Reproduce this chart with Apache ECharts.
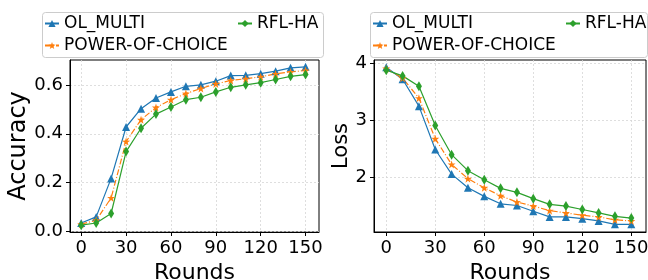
<!DOCTYPE html>
<html>
<head>
<meta charset="utf-8">
<script src="https://cdn.jsdelivr.net/npm/echarts@6/dist/echarts.min.js"></script>
<style>
  html, body { margin: 0; padding: 0; background: #fff; }
  #chart { width: 648px; height: 280px; }
</style>
</head>
<body>
<div id="chart"></div>
<script>
// rounds on the x axis
var rounds = [0, 10, 20, 30, 40, 50, 60, 70, 80, 90, 100, 110, 120, 130, 140, 150];
var xTicks = [0, 30, 60, 90, 120, 150];
var accTicks = [0, 0.2, 0.4, 0.6];
var lossTicks = [2, 3, 4];

// accuracy
var accOlMulti = [0.034, 0.059, 0.217, 0.428, 0.503, 0.547, 0.572, 0.595, 0.601, 0.616, 0.639, 0.640, 0.647, 0.657, 0.671, 0.675];
var accPower   = [0.029, 0.045, 0.137, 0.368, 0.458, 0.508, 0.540, 0.565, 0.586, 0.605, 0.619, 0.626, 0.634, 0.646, 0.654, 0.660];
var accRflHa   = [0.025, 0.034, 0.073, 0.327, 0.423, 0.481, 0.510, 0.540, 0.550, 0.572, 0.591, 0.601, 0.610, 0.623, 0.636, 0.643];

// loss
var lossOlMulti = [3.93, 3.72, 3.25, 2.49, 2.06, 1.82, 1.67, 1.54, 1.51, 1.41, 1.31, 1.31, 1.28, 1.24, 1.18, 1.18];
var lossPower   = [3.91, 3.74, 3.39, 2.68, 2.23, 1.98, 1.82, 1.68, 1.57, 1.50, 1.42, 1.38, 1.34, 1.31, 1.26, 1.24];
var lossRflHa   = [3.88, 3.78, 3.60, 2.91, 2.40, 2.12, 1.96, 1.81, 1.74, 1.63, 1.53, 1.50, 1.44, 1.38, 1.32, 1.29];

var BLUE = '#1f77b4', ORANGE = '#ff7f0e', GREEN = '#2ca02c';
var FONT = 'DejaVu Sans';
var STAR = 'path://M0,-10L2.35,-3.24L9.51,-3.09L3.8,1.24L5.88,8.09L0,4L-5.88,8.09L-3.8,1.24L-9.51,-3.09L-2.35,-3.24Z';

function pairs(vals) {
    return rounds.map(function (r, i) { return [r, vals[i]]; });
}

function xAxis(gi) {
    return {
        type: 'value', gridIndex: gi, min: -7.5, max: 159,
        name: 'Rounds', nameLocation: 'middle', nameGap: 26,
        nameTextStyle: { fontFamily: FONT, fontSize: 22, color: '#000' },
        axisLine: { show: true, onZero: false, lineStyle: { color: '#000', width: 1 } },
        axisTick: { show: true, length: 4, customValues: xTicks, lineStyle: { color: '#000' } },
        axisLabel: { customValues: xTicks, margin: 7, fontFamily: FONT, fontSize: 18, color: '#000' },
        splitLine: { show: true, lineStyle: { color: '#d6d6d6', type: [2, 2], width: 0.8 } }
    };
}

function yAxis(gi, name, size, min, max, ticks, gap, fmt) {
    return {
        type: 'value', gridIndex: gi, min: min, max: max,
        name: name, nameLocation: 'middle', nameGap: gap,
        nameTextStyle: { fontFamily: FONT, fontSize: size, color: '#000' },
        axisLine: { show: true, onZero: false, lineStyle: { color: '#000', width: 1 } },
        axisTick: { show: true, length: 4, customValues: ticks, lineStyle: { color: '#000' } },
        axisLabel: { customValues: ticks, margin: 7, fontFamily: FONT, fontSize: 18, color: '#000', formatter: fmt },
        splitLine: { show: true, lineStyle: { color: '#d6d6d6', type: [2, 2], width: 0.8 } }
    };
}

function line(name, gi, vals, color, symbol, size, dash) {
    return {
        name: name, type: 'line', xAxisIndex: gi, yAxisIndex: gi,
        data: pairs(vals), symbol: symbol, symbolSize: size,
        showAllSymbol: true, animation: false,
        lineStyle: { color: color, width: 1.2, type: dash || 'solid' },
        itemStyle: { color: color }
    };
}

function legend(names, left) {
    return {
        data: names, orient: 'vertical', left: left, top: 15, padding: 0,
        itemWidth: 14, itemHeight: 9, itemGap: 5,
        textStyle: { fontFamily: FONT, fontSize: 17, color: '#000' }
    };
}

var chart = echarts.init(document.getElementById('chart'));
chart.setOption({
    animation: false,
    grid: [
        { left: 70, top: 60, width: 249, height: 172, show: true, borderColor: '#000', borderWidth: 1, outerBoundsMode: 'none', containLabel: false },
        { left: 374, top: 60, width: 272, height: 172, show: true, borderColor: '#000', borderWidth: 1, outerBoundsMode: 'none', containLabel: false }
    ],
    xAxis: [xAxis(0), xAxis(1)],
    yAxis: [
        yAxis(0, 'Accuracy', 24, -0.003, 0.703, accTicks, 32, function (v) { return v.toFixed(1); }),
        yAxis(1, 'Loss', 21, 1.046, 4.058, lossTicks, 21, function (v) { return String(v); })
    ],
    graphic: [
        { type: 'rect', shape: { x: 42.5, y: 12.5, width: 281, height: 45, r: 3 }, style: { fill: 'rgba(255,255,255,0.8)', stroke: '#cccccc', lineWidth: 1 } },
        { type: 'rect', shape: { x: 370.5, y: 12.5, width: 277, height: 45, r: 3 }, style: { fill: 'rgba(255,255,255,0.8)', stroke: '#cccccc', lineWidth: 1 } }
    ],
    legend: [
        legend(['OL_MULTI', 'POWER-OF-CHOICE'], 44),
        legend(['RFL-HA'], 237),
        legend(['OL_MULTI', 'POWER-OF-CHOICE'], 372),
        legend(['RFL-HA'], 565)
    ],
    series: [
        line('OL_MULTI', 0, accOlMulti, BLUE, 'triangle', 8),
        line('POWER-OF-CHOICE', 0, accPower, ORANGE, STAR, 8, [6, 2, 1, 2]),
        line('RFL-HA', 0, accRflHa, GREEN, 'diamond', [6, 10]),
        line('OL_MULTI', 1, lossOlMulti, BLUE, 'triangle', 8),
        line('POWER-OF-CHOICE', 1, lossPower, ORANGE, STAR, 8, [6, 2, 1, 2]),
        line('RFL-HA', 1, lossRflHa, GREEN, 'diamond', [6, 10])
    ]
});
</script>
</body>
</html>
